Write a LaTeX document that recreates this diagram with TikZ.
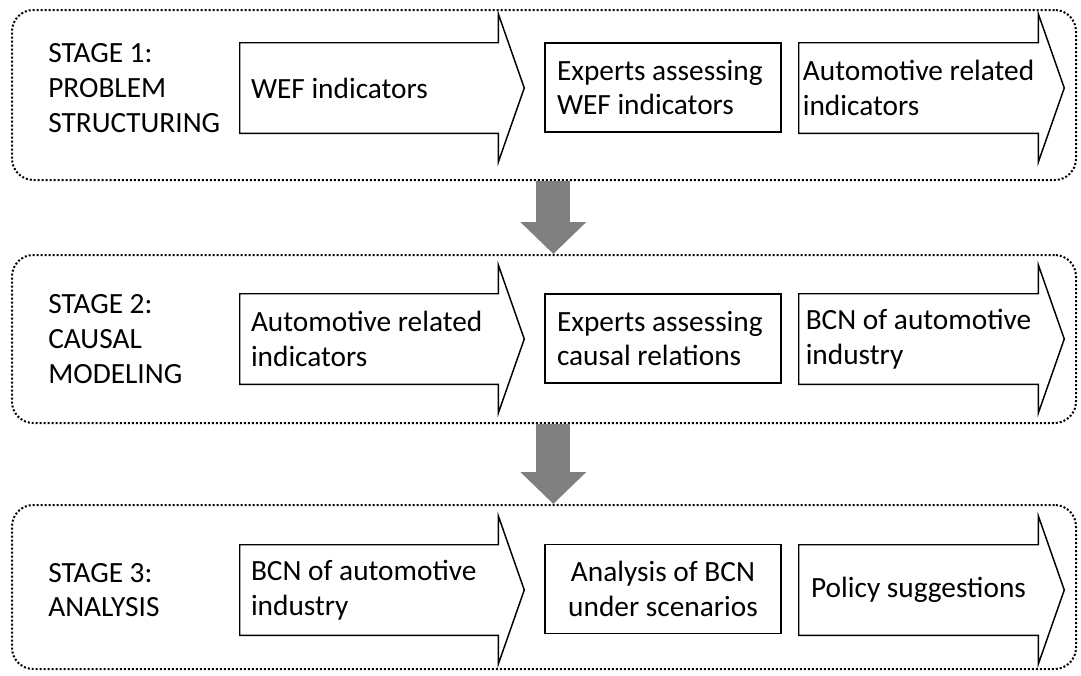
\documentclass[tikz,border=0pt]{standalone}
\usepackage{fontspec}
\setmainfont{Carlito}
\usetikzlibrary{arrows.meta,calc}

\begin{document}
\begin{tikzpicture}[x=0.75pt, y=-0.75pt, every node/.style={font=\fontsize{22}{26}\selectfont}]
 \tikzstyle{stagebox}=[draw, line width=1.5pt, dash pattern=on 1.5pt off 1.5pt, rounded corners=16pt, minimum width=798pt]
 \tikzstyle{stagelabel}=[anchor=west, align=flush left, inner sep=0pt]
 \tikzstyle{shaft}=[inner sep=0pt, minimum height=67.5pt, align=flush left]
 \tikzstyle{shaftA}=[shaft, minimum width=193.5pt, text width=177pt]
 \tikzstyle{shaftC}=[shaft, minimum width=179.25pt]
 \tikzstyle{task}=[draw, line width=1.1pt, inner sep=0pt, minimum width=177pt, minimum height=67pt, text width=159pt, align=flush left]
 \tikzstyle{flowline}=[line width=1.1pt, line join=miter]
 \tikzstyle{stepdown}=[line width=25.5pt, black!50, -{Triangle[width=48pt, length=24pt]}]
 \useasboundingbox (0,0) rectangle (1081,675);
 %
 \node[stagebox, minimum height=127.5pt] (S1) at (544,95) {};
 \node[stagebox, minimum height=126pt] (S2) at (544,339) {};
 \node[stagebox, minimum height=123pt] (S3) at (544,587) {};
 %
 \node[stagelabel] (L1) at (48,88) {STAGE 1:\\PROBLEM\\STRUCTURING};
 \node[shaftA] (A1) at (369,88) {WEF indicators};
 \node[task] (B1) at (663,87.5) {Experts assessing\\WEF indicators};
 \node[shaftC] (C1) at (918.5,88) {Automotive related\\indicators};
 %
 \node[stagelabel] (L2) at (48,339) {STAGE 2:\\CAUSAL\\MODELING};
 \node[shaftA] (A2) at (369,339) {Automotive related\\indicators};
 \node[task] (B2) at (663,338.5) {Experts assessing\\causal relations};
 \node[shaftC] (C2) at (918.5,339) {BCN of automotive\\industry};
 %
 \node[stagelabel] (L3) at (48,590) {STAGE 3:\\ANALYSIS};
 \node[shaftA] (A3) at (369,590) {BCN of automotive\\industry};
 \node[task, align=flush center] (B3) at (663,589) {Analysis of BCN\\under scenarios};
 \node[shaftC] (C3) at (918.5,590) {Policy suggestions};
 %%
 \foreach \n in {A1,C1,A2,C2,A3,C3}
  \draw[flowline] (\n.south west) -- (\n.north west) -- (\n.north east) -- ($(\n.north east)+(0,-29)$)
   -- ($(\n.east)+(26,0)$) -- ($(\n.south east)+(0,29)$) -- (\n.south east) -- cycle;
 %%
 \draw[stepdown] ([xshift=7pt]S1.south) -- ([xshift=7pt]S2.north);
 \draw[stepdown] ([xshift=7pt]S2.south) -- ([xshift=7pt]S3.north);
\end{tikzpicture}
\end{document}
